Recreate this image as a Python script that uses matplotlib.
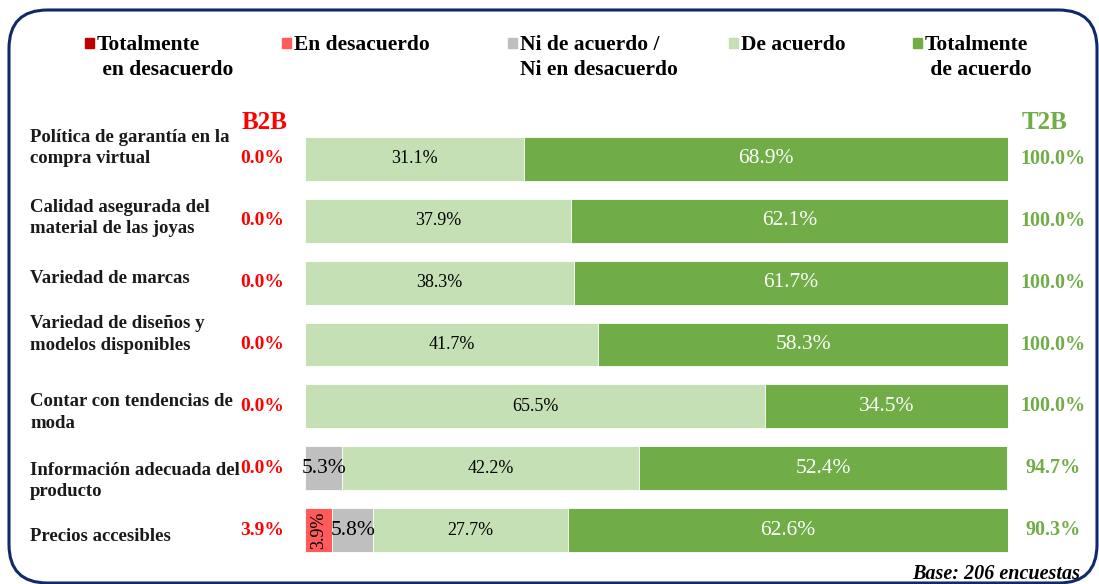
import matplotlib
matplotlib.use("Agg")
import matplotlib.pyplot as plt
from matplotlib.patches import Rectangle, FancyBboxPatch
from matplotlib.transforms import blended_transform_factory

# DATA

items = ["Política de garantía en la\ncompra virtual",
         "Calidad asegurada del\nmaterial de las joyas",
         "Variedad de marcas",
         "Variedad de diseños y\nmodelos disponibles",
         "Contar con tendencias de\nmoda",
         "Información adecuada del\nproducto",
         "Precios accesibles"]
tot_desacuerdo = [0.0, 0.0, 0.0, 0.0, 0.0, 0.0, 0.0]
en_desacuerdo = [0.0, 0.0, 0.0, 0.0, 0.0, 0.0, 3.9]
ni_ni = [0.0, 0.0, 0.0, 0.0, 0.0, 5.3, 5.8]
de_acuerdo = [31.1, 37.9, 38.3, 41.7, 65.5, 42.2, 27.7]
tot_acuerdo = [68.9, 62.1, 61.7, 58.3, 34.5, 52.4, 62.6]
b2b = [0.0, 0.0, 0.0, 0.0, 0.0, 0.0, 3.9]
t2b = [100.0, 100.0, 100.0, 100.0, 100.0, 94.7, 90.3]

series_names = ["Totalmente\n en desacuerdo", "En desacuerdo",
                "Ni de acuerdo /\nNi en desacuerdo", "De acuerdo",
                "Totalmente\n de acuerdo"]
base_note = "Base: 206 encuestas"

# STYLE

colors = ["#C00000", "#FF5B5B", "#BFBFBF", "#C5E0B4", "#70AD47"]
lbl_colors = ["white", "black", "black", "black", "white"]
lbl_sizes = [13, 13, 15.5, 13, 15.5]
lbl_rot = [90, 90, 0, 0, 0]
legend_x = [85, 282, 508, 729, 913]  # pixel x of each legend square
label_dy = [-11, -3, -4, -10, 6, 13, 6]  # pixel shift of the row names
red = "#FF0000"
green = "#70AD47"

plt.rcParams["font.family"] = ["Liberation Serif", "DejaVu Serif"]

W, H = 1099, 584
fig = plt.figure(figsize=(W / 100, H / 100), dpi=100)

# rounded frame
frame = FancyBboxPatch((9 / W, 1 - 583 / H), 1088 / W, 573 / H,
                       boxstyle="round,pad=0,rounding_size=0.035",
                       transform=fig.transFigure, fill=False,
                       edgecolor="#0E2A6B", linewidth=2.2,
                       mutation_aspect=W / H)
fig.patches.append(frame)

ax = fig.add_axes([305 / W, 1 - 561 / H, 703 / W, 433 / H])
ax.set_xlim(0, 100)
ax.set_ylim(len(items) - 0.5, -0.5)
ax.axis("off")

ypos = list(range(len(items)))
series = [tot_desacuerdo, en_desacuerdo, ni_ni, de_acuerdo, tot_acuerdo]
left = [0.0] * len(items)
for s, vals in enumerate(series):
    ax.barh(ypos, vals, left=left, height=0.71, color=colors[s],
            edgecolor="white", linewidth=0.6)
    for i, v in enumerate(vals):
        if v > 0:
            ax.text(left[i] + v / 2, i, "%.1f%%" % v, ha="center", va="center",
                    color=lbl_colors[s], fontsize=lbl_sizes[s],
                    rotation=lbl_rot[s])
    left = [l + v for l, v in zip(left, vals)]

tr = blended_transform_factory(fig.transFigure, ax.transData)
unit = 433 / len(items)  # pixels per row
for i, name in enumerate(items):
    fig.text(30 / W, i + label_dy[i] / unit, name, transform=tr, fontsize=13.5,
             fontweight="bold", color="#1a1a1a", ha="left", va="center",
             linespacing=1.33)
    fig.text(262 / W, i, "%.1f%%" % b2b[i], transform=tr, ha="center",
             va="center", fontsize=14, fontweight="bold", color=red)
    fig.text(1053 / W, i, "%.1f%%" % t2b[i], transform=tr, ha="center",
             va="center", fontsize=14.5, fontweight="bold", color=green)

fig.text(265 / W, 1 - 122 / H, "B2B", ha="center", va="center",
         fontsize=18, fontweight="bold", color=red)
fig.text(1045 / W, 1 - 122 / H, "T2B", ha="center", va="center",
         fontsize=18, fontweight="bold", color=green)

fig.text(1080 / W, 1 - 574 / H, base_note, ha="right", va="center",
         fontsize=14.5, fontweight="bold", fontstyle="italic")

# legend, squares level with the first line of each label
for s, name in enumerate(series_names):
    x = legend_x[s]
    fig.patches.append(Rectangle((x / W, 1 - 48 / H), 9 / W, 10 / H,
                                 transform=fig.transFigure, color=colors[s]))
    fig.text((x + 12) / W, 1 - 35 / H, name, ha="left", va="top",
             fontsize=15.5, fontweight="bold", linespacing=1.35)

fig.savefig("out.png", dpi=100)
